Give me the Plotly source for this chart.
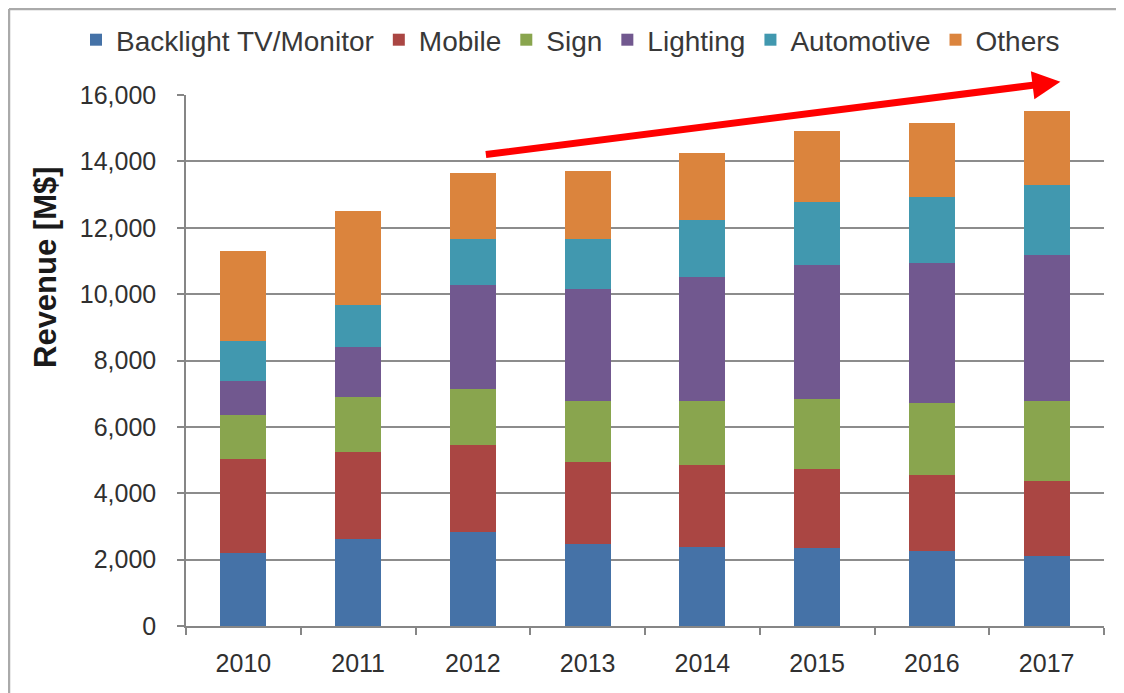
import plotly.graph_objects as go

years = ["2010", "2011", "2012", "2013", "2014", "2015", "2016", "2017"]
backlight = [2190, 2615, 2845, 2474, 2393, 2358, 2255, 2119]
mobile = [2840, 2643, 2605, 2482, 2464, 2369, 2285, 2245]
sign = [1330, 1640, 1699, 1831, 1930, 2120, 2182, 2410]
lighting = [1020, 1497, 3117, 3370, 3731, 4031, 4229, 4416]
automotive = [1200, 1267, 1399, 1517, 1709, 1891, 1984, 2109]
others = [2720, 2836, 1990, 2051, 2032, 2161, 2234, 2233]

series = [
    ("Backlight TV/Monitor", backlight, "#4572A7"),
    ("Mobile", mobile, "#AA4643"),
    ("Sign", sign, "#89A54E"),
    ("Lighting", lighting, "#71588F"),
    ("Automotive", automotive, "#4198AF"),
    ("Others", others, "#DB843D"),
]

fig = go.Figure()
for name, vals, color in series:
    fig.add_trace(go.Bar(x=years, y=vals, name=name, marker=dict(color=color, line=dict(width=0))))

font_family = "Liberation Sans, Arial, sans-serif"

W, H = 1124, 693
L, R, T, B = 178, 28, 87, 75
pw, ph = W - L - R, H - T - B

fig.update_layout(
    width=W, height=H,
    barmode="stack", bargap=0.6,
    paper_bgcolor="white", plot_bgcolor="white",
    margin=dict(l=L, r=R, t=T, b=B, autoexpand=False),
    font=dict(family=font_family, color="#404040"),
    legend=dict(
        orientation="h", xref="paper", yref="paper",
        x=(68 - L) / pw, xanchor="left", y=1 + (T - 32) / ph, yanchor="middle",
        font=dict(size=28, color="#383838"), traceorder="normal",
        itemwidth=30, bgcolor="rgba(0,0,0,0)",
    ),
    showlegend=True,
)

fig.update_xaxes(
    type="category", showgrid=False, showline=True, linecolor="#868686", linewidth=1.5,
    ticks="outside", tickson="boundaries", ticklen=7, tickcolor="#868686", tickwidth=1.5,
    tickfont=dict(size=25, color="#303030"), ticklabelstandoff=14,
)
fig.update_yaxes(
    range=[0, 16000], tickvals=[0, 2000, 4000, 6000, 8000, 10000, 12000, 14000, 16000],
    tickformat=",d", showgrid=True, gridcolor="#8c8c8c", gridwidth=1.5,
    showline=True, linecolor="#868686", linewidth=1.5, zeroline=False,
    ticks="outside", ticklen=7, tickcolor="#868686", tickwidth=1.5,
    tickfont=dict(size=25, color="#303030"), ticklabelstandoff=16,
)

# y-axis title (placed above centre, as in the original)
fig.add_annotation(
    text="<b>Revenue [M$]</b>", textangle=-90, showarrow=False,
    xref="paper", yref="paper", x=(37 - L) / pw, y=(H - B - 259) / ph,
    xanchor="center", yanchor="middle",
    font=dict(size=31, color="#1a1a1a", family=font_family),
)

# red trend arrow
fig.add_annotation(
    x=7.12, y=16400, ax=2.1, ay=14200, xref="x", yref="y", axref="x", ayref="y",
    showarrow=True, arrowhead=2, arrowsize=0.8, arrowwidth=7, arrowcolor="#FF0000",
    text="",
)

# chart frame (left and top borders)
ytop = 1 + (T - 1) / ph
xleft = (1 - L) / pw
fig.add_shape(type="line", xref="paper", yref="paper",
              x0=xleft, x1=1.2, y0=ytop, y1=ytop,
              line=dict(color="#aaaaaa", width=2.5))
fig.add_shape(type="line", xref="paper", yref="paper",
              x0=xleft, x1=xleft, y0=ytop, y1=-0.3,
              line=dict(color="#aaaaaa", width=2.5))

fig.write_html("out.html")
